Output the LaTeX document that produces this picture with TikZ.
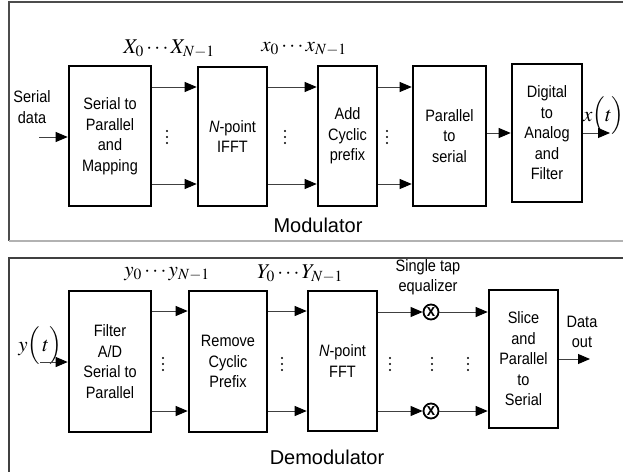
\documentclass[tikz,border=0pt]{standalone}
\usepackage{mathptmx}
\usepackage{fontspec}
\setmainfont{Liberation Sans}[FakeStretch=0.88]
\newfontfamily\ttlfont{Liberation Sans}
\usetikzlibrary{arrows.meta}
\newcommand\vdts[1]{\foreach \dd in {-6,0,6} {\fill[shift={(#1)}] (0,\dd) circle (1.15pt);}}
\begin{document}
\begin{tikzpicture}[x=1pt,y=-1pt,
  txt/.style={font=\fontsize{16.5}{20.5}\selectfont,align=center,inner sep=0pt},
  blk/.style={txt,draw,line width=2.6pt},
  arr/.style={line width=0.9pt,draw=black!75,-{Triangle[length=12pt,width=10pt,black]}},
  lbl/.style={font=\fontsize{21}{21}\selectfont,inner sep=0pt},
  mul/.style={circle,draw,line width=1.8pt,minimum size=15pt,inner sep=0pt,font=\fontsize{17}{17}\selectfont\bfseries},
  ttl/.style={font=\ttlfont\fontsize{20}{20}\selectfont,inner sep=0pt}]
\useasboundingbox (0,0) rectangle (623,471);
\clip (0,0) rectangle (623,471);
% frames
\draw[black!70,line width=1.2pt] (640,2) -- (9,2) -- (9,241);
\draw[gray!60,line width=1.8pt] (9,241) -- (640,241);
\draw[black!75,line width=1.2pt] (640,258) -- (9,258) -- (9,480);
% ---------- modulator ----------
\coordinate (t1) at (0,87);
\coordinate (t2) at (0,184);
\node[blk,minimum width=82pt,minimum height=140pt] (B1) at (110,136) {Serial to\\Parallel\\and\\Mapping};
\node[blk,minimum width=69pt,minimum height=139pt] (B2) at (232.5,136.5) {\textit{N}-point\\IFFT};
\node[blk,minimum width=59pt,minimum height=140pt] (B3) at (347.5,136) {Add\\Cyclic\\prefix};
\node[blk,minimum width=73pt,minimum height=140pt] (B4) at (449.5,136) {Parallel\\to\\serial};
\node[blk,minimum width=70pt,minimum height=138pt] (B5) at (547,133) {Digital\\to\\Analog\\and\\Filter};
\coordinate (in1) at (39,137);
\node[txt] (sd) at (32,107) {Serial\\data};
\draw[arr] (in1) -- (B1.west|-in1);
\draw[arr] (B1.east|-t1) -- (B2.west|-t1);
\draw[arr] (B1.east|-t2) -- (B2.west|-t2);
\draw[arr] (B2.east|-t1) -- (B3.west|-t1);
\draw[arr] (B2.east|-t2) -- (B3.west|-t2);
\draw[arr] (B3.east|-t1) -- (B4.west|-t1);
\draw[arr] (B3.east|-t2) -- (B4.west|-t2);
\draw[arr] (B4.east|-B5.east) -- (B5.west);
\coordinate (out1) at (610,133);
\draw[arr] (B5.east) -- (out1);
\coordinate (d1) at (167,137);
\coordinate (d2) at (285,137);
\coordinate (d3) at (387,137);
\vdts{d1}\vdts{d2}\vdts{d3}
\node[lbl] (L1) at (169,49) {$X_0\cdots X_{N-1}$};
\node[lbl] (L2) at (304,49) {$x_0\cdots x_{N-1}$};
\node[lbl,anchor=west] (xt) at (583,116) {$x\Bigl(t\Bigr)$};
\node[ttl] (mod) at (318,225) {Modulator};
% ---------- demodulator ----------
\coordinate (u1) at (0,311);
\coordinate (u2) at (0,411);
\node[blk,minimum width=82pt,minimum height=141pt] (BA) at (110,361.5) {Filter\\A/D\\Serial to\\Parallel};
\node[blk,minimum width=78pt,minimum height=141pt] (BB) at (228,361.5) {Remove\\Cyclic\\Prefix};
\node[blk,minimum width=69pt,minimum height=140pt] (BC) at (342.5,361) {\textit{N}-point\\FFT};
\node[blk,minimum width=69pt,minimum height=138pt] (BD) at (523.5,359) {Slice\\and\\Parallel\\to\\Serial};
\node[mul] (m1) at (431,312) {x};
\node[mul] (m2) at (431,411) {x};
\coordinate (in2) at (40,362);
\node[lbl] (yt) at (40,346) {$y\Bigl(\,t\Bigr)$};
\draw[arr] (in2) -- (BA.west|-in2);
\draw[arr] (BA.east|-u1) -- (BB.west|-u1);
\draw[arr] (BA.east|-u2) -- (BB.west|-u2);
\draw[arr] (BB.east|-u1) -- (BC.west|-u1);
\draw[arr] (BB.east|-u2) -- (BC.west|-u2);
\draw[arr] (BC.east|-m1) -- (m1.west);
\draw[arr] (BC.east|-m2) -- (m2.west);
\draw[arr] (m1.east) -- (BD.west|-m1);
\draw[arr] (m2.east) -- (BD.west|-m2);
\coordinate (out2) at (590,359);
\draw[arr] (BD.east) -- (out2);
\node[txt] (do) at (582,332) {Data\\out};
\node[txt] (eq) at (428,277) {Single tap\\equalizer};
\coordinate (e1) at (163,364);
\coordinate (e2) at (282,364);
\coordinate (e3) at (390,364);
\coordinate (e4) at (432,364);
\coordinate (e5) at (468,364);
\vdts{e1}\vdts{e2}\vdts{e3}\vdts{e4}\vdts{e5}
\node[lbl] (L3) at (167,274) {$y_0\cdots y_{N-1}$};
\node[lbl] (L4) at (300,274) {$Y_0\cdots Y_{N-1}$};
\node[ttl] (dem) at (327,457) {Demodulator};
\end{tikzpicture}
\end{document}
